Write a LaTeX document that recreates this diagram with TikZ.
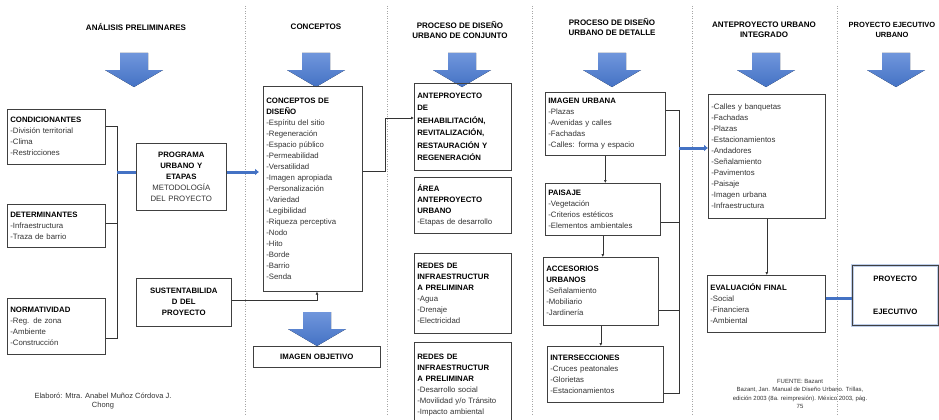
\documentclass[tikz,border=0pt]{standalone}
\usepackage{fontspec}
\setmainfont{Liberation Sans}
\usetikzlibrary{arrows.meta,positioning,calc}
\definecolor{ofblue}{RGB}{68,114,196}
\definecolor{ofbluelt}{RGB}{112,150,220}
\tikzset{
  hdr/.style  ={align=center,font=\bfseries\fontsize{8}{10}\selectfont,inner sep=0pt},
  bx/.style   ={draw=black!75,line width=0.6pt,align=left,anchor=north west,inner sep=3pt,
                text=black!80,font=\fontsize{7.8}{11}\selectfont},
  cbx/.style  ={bx,align=center},
  cred/.style ={align=center,inner sep=0pt,text=black!80,font=\fontsize{6}{8.5}\selectfont},
  sep/.style  ={gray!70,line width=0.5pt,dash pattern=on 1pt off 1.5pt},
  ln/.style   ={black!80,line width=0.6pt},
  ar/.style   ={ln,-{Latex[length=3pt,width=3pt]}},
  blu/.style  ={ofblue,line width=3pt},
  bluar/.style={blu,-{Latex[length=4pt,width=7pt]}},
  bigarr/.pic ={\fill[top color=ofbluelt,bottom color=ofblue]
                (-14,0) -- (14,0) -- (14,17) -- (29,17) -- (0,34) -- (-29,17) -- (-14,17) -- cycle;},
}
\newcommand{\ttl}[1]{\textbf{\color{black}#1}}

\begin{document}
\begin{tikzpicture}[x=1pt,y=-1pt]
\useasboundingbox (0,0) rectangle (939,420);
\clip (0,0) rectangle (939,420);
% column separators
\foreach \x in {245,387,532,692,837} \draw[sep] (\x,6) -- (\x,414);
% headers and big arrows
\node[hdr] (h1) at (136,27) {ANÁLISIS PRELIMINARES};
\node[hdr] (h2) at (316,27) {CONCEPTOS};
\node[hdr] (h3) at (460,30) {PROCESO DE DISEÑO\\URBANO DE CONJUNTO};
\node[hdr] (h4) at (612,27) {PROCESO DE DISEÑO\\URBANO DE DETALLE};
\node[hdr] (h5) at (764,30) {ANTEPROYECTO URBANO\\INTEGRADO};
\node[hdr,font=\bfseries\fontsize{7.5}{10}\selectfont] (h6) at (892,30) {PROYECTO EJECUTIVO\\URBANO};
\foreach \x in {134,316,462,612,766,896} \pic at (\x,53) {bigarr};
\pic at (317,312) {bigarr};
% analisis preliminares
\node[bx,text width=92pt,minimum height=55pt] (CON) at (7,109)
  {\ttl{CONDICIONANTES}\\-División territorial\\-Clima\\-Restricciones};
\node[bx,text width=92pt,minimum height=43pt] (DET) at (7,204)
  {\ttl{DETERMINANTES}\\-Infraestructura\\-Traza de barrio};
\node[bx,text width=92pt,minimum height=56pt] (NOR) at (7,298)
  {\ttl{NORMATIVIDAD}\\-Reg. de zona\\-Ambiente\\-Construcción};
\node[cbx,text width=84pt,minimum height=67pt] (PRG) at (136,143)
  {\ttl{PROGRAMA}\\\ttl{URBANO Y}\\\ttl{ETAPAS}\\METODOLOGÍA\\DEL PROYECTO};
\node[cbx,text width=89pt,minimum height=48pt] (SUS) at (136,278)
  {\ttl{SUSTENTABILIDA}\\\ttl{D DEL}\\\ttl{PROYECTO}};
% conceptos
\node[bx,text width=93pt,minimum height=205pt] (CDI) at (263,86)
  {\ttl{CONCEPTOS DE}\\\ttl{DISEÑO}\\-Espíritu del sitio\\-Regeneración\\-Espacio público\\
   -Permeabilidad\\-Versatilidad\\-Imagen apropiada\\-Personalización\\-Variedad\\
   -Legibilidad\\-Riqueza perceptiva\\-Nodo\\-Hito\\-Borde\\-Barrio\\-Senda};
\node[cbx,text width=121pt,minimum height=21pt] (IMO) at (253,346) {\ttl{IMAGEN OBJETIVO}};
% diseno urbano de conjunto
\node[bx,text width=91pt,minimum height=87pt,font=\bfseries\fontsize{7.8}{12.5}\selectfont,text=black] (ANT) at (414,83)
  {ANTEPROYECTO\\DE\\REHABILITACIÓN,\\REVITALIZACIÓN,\\RESTAURACIÓN Y\\REGENERACIÓN};
\node[bx,text width=91pt,minimum height=56pt] (AUR) at (414,177)
  {\ttl{ÁREA}\\\ttl{ANTEPROYECTO}\\\ttl{URBANO}\\-Etapas de desarrollo};
\node[bx,text width=91pt,minimum height=80pt] (RD1) at (414,253)
  {\ttl{REDES DE}\\\ttl{INFRAESTRUCTUR}\\\ttl{A PRELIMINAR}\\-Agua\\-Drenaje\\-Electricidad};
\node[bx,text width=91pt,minimum height=85pt] (RD2) at (414,342)
  {\ttl{REDES DE}\\\ttl{INFRAESTRUCTUR}\\\ttl{A PRELIMINAR}\\-Desarrollo social\\-Movilidad y/o Tránsito\\-Impacto ambiental};
% diseno urbano de detalle
\node[bx,text width=114pt,minimum height=63pt] (IMU) at (545,92)
  {\ttl{IMAGEN URBANA}\\-Plazas\\-Avenidas y calles\\-Fachadas\\-Calles: forma y espacio};
\node[bx,text width=109pt,minimum height=52pt] (PAI) at (545,183)
  {\ttl{PAISAJE}\\-Vegetación\\-Criterios estéticos\\-Elementos ambientales};
\node[bx,text width=109pt,minimum height=68pt] (ACC) at (543,257)
  {\ttl{ACCESORIOS}\\\ttl{URBANOS}\\-Señalamiento\\-Mobiliario\\-Jardinería};
\node[bx,text width=110pt,minimum height=56pt] (INT) at (547,346)
  {\ttl{INTERSECCIONES}\\-Cruces peatonales\\-Glorietas\\-Estacionamientos};
% anteproyecto integrado
\node[bx,text width=111pt,minimum height=124pt] (LST) at (708,94)
  {-Calles y banquetas\\-Fachadas\\-Plazas\\-Estacionamientos\\-Andadores\\-Señalamiento\\
   -Pavimentos\\-Paisaje\\-Imagen urbana\\-Infraestructura};
\node[bx,text width=112pt,minimum height=57pt] (EVA) at (707,275)
  {\ttl{EVALUACIÓN FINAL}\\-Social\\-Financiera\\-Ambiental};
\node[cbx,text width=80pt,minimum height=60pt,preaction={draw=ofblue!35,line width=3.5pt}] (PEJ) at (852,265)
  {\ttl{PROYECTO}\\[22pt]\ttl{EJECUTIVO}};
% credits
\node[cred,font=\fontsize{7.5}{9.5}\selectfont] (crL) at (103,401)
  {Elaboró: Mtra. Anabel Muñoz Córdova J.\\Chong};
\node[cred] (crR) at (800,394)
  {FUENTE: Bazant\\Bazant, Jan. Manual de Diseño Urbano. Trillas,\\edición 2003 (8a. reimpresión). México 2003, pág.\\75};
% connectors, left part
\coordinate (bkT) at (117,126);
\coordinate (bkM) at (117,223);
\coordinate (bkB) at (117,338);
\coordinate (bkP) at (117,172);
\draw[ln] (CON.east |- bkT) -- (bkT) -- (bkB) -- (NOR.east |- bkB);
\draw[ln] (DET.east |- bkM) -- (bkM);
\draw[blu] (bkP) -- (PRG.west |- bkP);
\draw[bluar] (PRG.east |- bkP) -- ([xshift=-4pt]CDI.west |- bkP);
\coordinate (susC) at (317,300);
\draw[ar] (SUS.east |- susC) -- (susC) -- (CDI.south -| susC);
\coordinate (k1) at (385,171);
\coordinate (k2) at (385,118);
\draw[ar] (CDI.east |- k1) -- (k1) -- (k2) -- (ANT.west |- k2);
% connectors, detail column
\draw[ar] (IMU.south) -- (IMU.south |- PAI.north);
\draw[ar] (PAI.south) -- (PAI.south |- ACC.north);
\draw[ar] (ACC.south) -- (ACC.south |- INT.north);
\coordinate (bdT) at (679,110);
\coordinate (bd2) at (679,222);
\coordinate (bd3) at (679,310);
\coordinate (bdB) at (679,393);
\coordinate (bdP) at (679,148);
\draw[ln] (IMU.east |- bdT) -- (bdT) -- (bdB) -- (INT.east |- bdB);
\draw[ln] (PAI.east |- bd2) -- (bd2);
\draw[ln] (ACC.east |- bd3) -- (bd3);
\draw[bluar] (bdP) -- (LST.west |- bdP);
% connectors, right part
\draw[ar] (LST.south) -- (LST.south |- EVA.north);
\coordinate (ep) at (825,298);
\draw[blu] (EVA.east |- ep) -- (PEJ.west |- ep);
\end{tikzpicture}
\end{document}
